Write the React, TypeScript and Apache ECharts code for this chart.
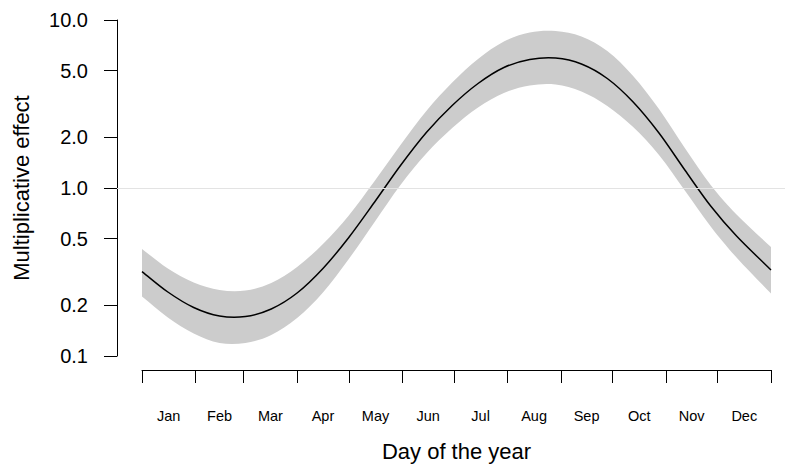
import React, { useEffect, useRef } from 'react';
import * as echarts from 'echarts';

// Day of the year at which the curve was read
const DAYS = [0, 15, 30, 45, 60, 75, 90, 105, 120, 135, 150, 165, 180, 195, 210, 225, 240, 255, 270, 285, 300, 315, 330, 345, 365];
// Fitted multiplicative effect
const FIT = [0.318, 0.2404, 0.1944, 0.173, 0.1718, 0.1905, 0.2371, 0.3318, 0.5074, 0.8254, 1.361, 2.14, 3.098, 4.188, 5.216, 5.821, 5.94, 5.472, 4.485, 3.25, 2.125, 1.28, 0.7812, 0.5179, 0.3249];
// Upper confidence limit
const UPPER = [0.4334, 0.3318, 0.2738, 0.2471, 0.2454, 0.272, 0.3387, 0.4642, 0.6861, 1.101, 1.803, 2.873, 4.246, 5.861, 7.447, 8.425, 8.6, 7.975, 6.54, 4.642, 2.953, 1.73, 1.042, 0.6956, 0.4455];
// Lower confidence limit
const LOWER = [0.226, 0.1695, 0.1361, 0.1195, 0.1195, 0.1334, 0.1684, 0.2388, 0.3779, 0.6275, 1.042, 1.604, 2.276, 3.014, 3.677, 4.075, 4.131, 3.753, 3.078, 2.307, 1.572, 0.9663, 0.5898, 0.3858, 0.2355];

const MONTHS = ['Jan', 'Feb', 'Mar', 'Apr', 'May', 'Jun', 'Jul', 'Aug', 'Sep', 'Oct', 'Nov', 'Dec'];
const MONTH_STARTS = [0, 31, 59, 90, 120, 151, 181, 212, 243, 273, 304, 334, 365];
const Y_TICKS = [0.1, 0.2, 0.5, 1, 2, 5, 10];

const FONT = '"Liberation Sans", Arial, Helvetica, sans-serif';

type Pt = number[];

// Catmull-Rom spline through pixel points, as cubic Bezier segments
function splineSegments(pts: Pt[]): string {
  const n = pts.length;
  const get = (i: number): Pt => {
    if (i < 0) return [2 * pts[0][0] - pts[1][0], 2 * pts[0][1] - pts[1][1]];
    if (i >= n) return [2 * pts[n - 1][0] - pts[n - 2][0], 2 * pts[n - 1][1] - pts[n - 2][1]];
    return pts[i];
  };
  let s = '';
  for (let i = 0; i < n - 1; i++) {
    const p0 = get(i - 1);
    const p1 = get(i);
    const p2 = get(i + 1);
    const p3 = get(i + 2);
    const c1x = p1[0] + (p2[0] - p0[0]) / 6;
    const c1y = p1[1] + (p2[1] - p0[1]) / 6;
    const c2x = p2[0] - (p3[0] - p1[0]) / 6;
    const c2y = p2[1] - (p3[1] - p1[1]) / 6;
    s += ` C ${c1x} ${c1y} ${c2x} ${c2y} ${p2[0]} ${p2[1]}`;
  }
  return s;
}

export default function App() {
  const ref = useRef<HTMLDivElement>(null);

  useEffect(() => {
    if (!ref.current) return;
    const chart = echarts.init(ref.current, null, { renderer: 'svg' });
    const mids = MONTH_STARTS.slice(0, 12).map((s, i) => (s + MONTH_STARTS[i + 1]) / 2);
    const monthOf = (v: number) => {
      let best = 0;
      for (let i = 1; i < mids.length; i++) {
        if (Math.abs(mids[i] - v) < Math.abs(mids[best] - v)) best = i;
      }
      return MONTHS[best];
    };
    const axisLineStyle = { color: '#000', width: 1 };

    chart.setOption({
      animation: false,
      backgroundColor: '#ffffff',
      grid: [
        { left: 117, right: 0, top: 20, bottom: 111 },
        { left: 142, right: 14, top: 20, bottom: 97 },
      ],
      xAxis: [
        {
          gridIndex: 0,
          type: 'value',
          min: -14.507,
          max: 373.124,
          show: false,
        },
        {
          gridIndex: 1,
          type: 'value',
          min: 0,
          max: 365,
          axisLine: { show: true, onZero: false, lineStyle: axisLineStyle },
          axisTick: { show: true, customValues: MONTH_STARTS, length: 13, lineStyle: axisLineStyle },
          axisLabel: {
            customValues: mids,
            formatter: (v: number) => monthOf(v),
            margin: 38,
            fontSize: 14.5,
            color: '#000',
            fontFamily: FONT,
          },
          splitLine: { show: false },
          name: 'Day of the year',
          nameLocation: 'middle',
          nameGap: 70,
          nameTextStyle: { fontSize: 22, color: '#000', fontFamily: FONT },
        },
      ],
      yAxis: [
        {
          gridIndex: 0,
          type: 'log',
          logBase: 10,
          min: 0.1,
          max: 10,
          axisLine: { show: true, onZero: false, lineStyle: axisLineStyle },
          axisTick: { show: true, customValues: Y_TICKS, length: 13, lineStyle: axisLineStyle },
          axisLabel: {
            customValues: Y_TICKS,
            formatter: (v: number) => Number(v).toFixed(1),
            margin: 29,
            fontSize: 20,
            color: '#000',
            fontFamily: FONT,
          },
          splitLine: { show: false },
          minorTick: { show: false },
          name: 'Multiplicative effect',
          nameLocation: 'middle',
          nameGap: 85,
          nameTextStyle: { fontSize: 22, color: '#000', fontFamily: FONT },
        },
        { gridIndex: 1, type: 'value', show: false },
      ],
      series: [
        {
          type: 'line',
          xAxisIndex: 0,
          yAxisIndex: 0,
          data: DAYS.map((d, i) => [d, FIT[i]]),
          symbol: 'none',
          lineStyle: { opacity: 0 },
          z: 1,
          silent: true,
          markLine: {
            silent: true,
            symbol: 'none',
            label: { show: false },
            lineStyle: { color: '#e3e3e3', width: 1, type: 'solid' },
            data: [{ yAxis: 1 }],
          },
        },
        {
          type: 'custom',
          xAxisIndex: 0,
          yAxisIndex: 0,
          data: [[DAYS[0], FIT[0]]],
          encode: { x: 0, y: 1 },
          clip: false,
          silent: true,
          z: 2,
          renderItem: (_params: any, api: any) => {
            const up = DAYS.map((d, i) => api.coord([d, UPPER[i]]));
            const lo = DAYS.map((d, i) => api.coord([d, LOWER[i]]));
            const fit = DAYS.map((d, i) => api.coord([d, FIT[i]]));
            const loRev = lo.slice().reverse();
            const band =
              `M ${up[0][0]} ${up[0][1]}` +
              splineSegments(up) +
              ` L ${loRev[0][0]} ${loRev[0][1]}` +
              splineSegments(loRev) +
              ' Z';
            const line = `M ${fit[0][0]} ${fit[0][1]}` + splineSegments(fit);
            return {
              type: 'group',
              children: [
                { type: 'path', shape: { pathData: band }, style: { fill: '#cccccc', stroke: null } },
                { type: 'path', shape: { pathData: line }, style: { fill: null, stroke: '#000', lineWidth: 1.5 } },
              ],
            };
          },
        },
      ],
    });

    return () => chart.dispose();
  }, []);

  return (
    <div
      ref={ref}
      style={{ position: 'fixed', left: 0, top: 0, width: 785, height: 467, background: '#fff' }}
    />
  );
}
